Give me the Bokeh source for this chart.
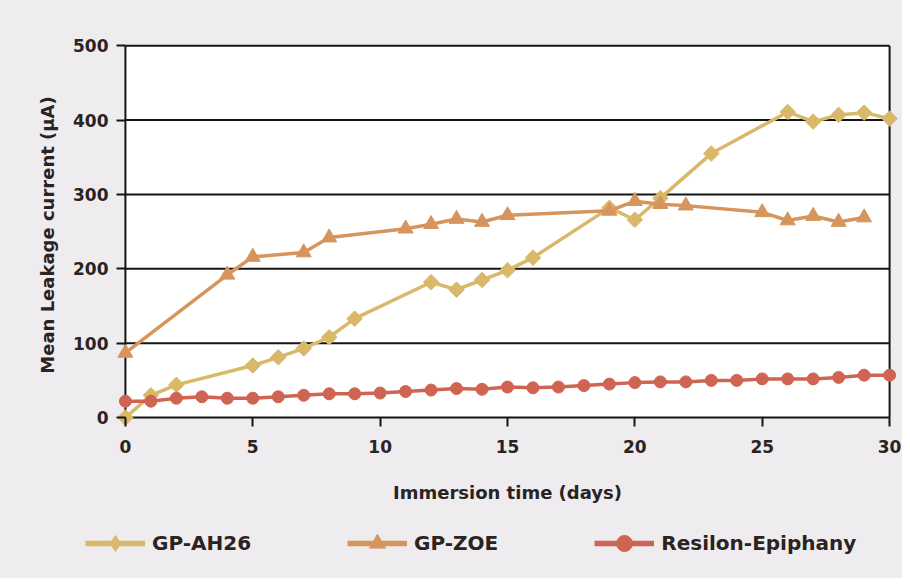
import numpy as np
from bokeh.plotting import figure
from bokeh.layouts import column, row
from bokeh.models import Range1d, Legend, LegendItem, FixedTicker, ColumnDataSource
from bokeh.embed import file_html
from bokeh.resources import INLINE

# ---- data ----
ah26_days = [0, 1, 2, 5, 6, 7, 8, 9, 12, 13, 14, 15, 16, 19, 20, 21, 23, 26, 27, 28, 29, 30]
ah26_vals = [0, 30, 44, 70, 81, 93, 108, 133, 182, 172, 185, 198, 215, 282, 266, 295, 355, 411, 398, 407, 410, 402]

zoe_days = [0, 4, 5, 7, 8, 11, 12, 13, 14, 15, 19, 20, 21, 22, 25, 26, 27, 28, 29]
zoe_vals = [87, 192, 216, 222, 242, 254, 260, 267, 263, 272, 278, 291, 287, 285, 276, 265, 271, 263, 269]

res_days = list(range(0, 31))
res_vals = [22, 22, 26, 28, 26, 26, 28, 30, 32, 32,
            33, 35, 37, 39, 38, 41, 40, 41, 43, 45,
            47, 48, 48, 50, 50, 52, 52, 52, 54, 57, 57]

x_ticks = [0, 5, 10, 15, 20, 25, 30]
y_ticks = [0, 100, 200, 300, 400, 500]

series_names = ["GP-AH26", "GP-ZOE", "Resilon-Epiphany"]
colors = ["#D9B86A", "#D5955C", "#CF6452"]
markers = ["square", "triangle", "circle"]
legend_markers = ["diamond", "triangle", "circle"]
marker_sizes = [11, 15, 12]
marker_angles = [np.pi / 4, 0, 0]

FONT = "DejaVu Sans"
TEXT = "#2b2222"
INK = "#151515"
BG = "#EEECEE"

p = figure(width=902, height=510, output_backend="svg", toolbar_location=None,
           x_range=Range1d(-0.35, 30.35), y_range=Range1d(-12, 503),
           min_border_left=116, min_border_right=4, min_border_top=43,
           min_border_bottom=84)
p.border_fill_color = BG
p.background_fill_color = BG
p.outline_line_color = None
p.xgrid.visible = False
p.ygrid.visible = False

# white data box
p.quad(left=[x_ticks[0]], right=[x_ticks[-1]], bottom=[y_ticks[0]], top=[y_ticks[-1]],
       fill_color="white", line_color=None, level="underlay")

# grid lines, axis lines and right/top border bounded to the data box
gy = [v for v in y_ticks if v > 0]
p.segment(x0=[x_ticks[0]] * len(gy), x1=[x_ticks[-1]] * len(gy), y0=gy, y1=gy,
          line_color=INK, line_width=2)
p.segment(x0=[x_ticks[0], x_ticks[-1], x_ticks[0]],
          x1=[x_ticks[0], x_ticks[-1], x_ticks[-1]],
          y0=[y_ticks[0], y_ticks[0], y_ticks[0]],
          y1=[y_ticks[-1], y_ticks[-1], y_ticks[0]],
          line_color=INK, line_width=2)

# series
series = [(ah26_days, ah26_vals), (zoe_days, zoe_vals), (res_days, res_vals)]
for i, (xs, ys) in enumerate(series):
    p.line(xs, ys, line_color=colors[i], line_width=3.5)
    p.scatter(xs, ys, marker=markers[i], angle=marker_angles[i], size=marker_sizes[i],
              fill_color=colors[i], line_color=colors[i])

# axes (ticks drawn inward across the padding strip so they hang off the data box)
for ax in (p.xaxis[0], p.yaxis[0]):
    ax.axis_line_color = None
    ax.major_tick_line_color = INK
    ax.major_tick_line_width = 2
    ax.minor_tick_line_color = None
    ax.major_tick_out = 0
    ax.major_tick_in = 9
    ax.major_label_text_font = FONT
    ax.major_label_text_font_style = "bold"
    ax.major_label_text_font_size = "17px"
    ax.major_label_text_color = TEXT
    ax.axis_label_text_font = FONT
    ax.axis_label_text_font_style = "bold"
    ax.axis_label_text_font_size = "18px"
    ax.axis_label_text_color = TEXT

p.xaxis.ticker = FixedTicker(ticks=x_ticks)
p.yaxis.ticker = FixedTicker(ticks=y_ticks)
p.xaxis.major_label_standoff = 13
p.yaxis.major_label_standoff = 8
p.xaxis.axis_label = "Immersion time (days)"
p.yaxis.axis_label = "Mean Leakage current (\u00b5A)"
p.xaxis.axis_label_standoff = 26
p.yaxis.axis_label_standoff = 12

# legend strip below the chart
lg = figure(width=902, height=68, output_backend="svg", toolbar_location=None,
            x_range=Range1d(0, 1), y_range=Range1d(0, 1),
            x_axis_location=None, y_axis_location=None,
            min_border_left=0, min_border_right=0, min_border_top=0, min_border_bottom=0)
lg.border_fill_color = BG
lg.background_fill_color = BG
lg.outline_line_color = None
lg.xgrid.visible = False
lg.ygrid.visible = False

items = []
for i, name in enumerate(series_names):
    src = ColumnDataSource(data=dict(x=[-5], y=[-5]))  # off-range: only the legend glyph shows
    lr = lg.line("x", "y", source=src, line_color=colors[i], line_width=5.5)
    sr = lg.scatter("x", "y", source=src, marker=legend_markers[i],
                    fill_color=colors[i], line_color=colors[i])
    items.append(LegendItem(label=name, renderers=[lr, sr]))

legend = Legend(items=items, location=(85, 15), orientation="horizontal")
legend.padding = 0
legend.margin = 0
legend.spacing = 96
legend.glyph_width = 60
legend.glyph_height = 40
legend.label_standoff = 7
legend.label_text_font = FONT
legend.label_text_font_style = "bold"
legend.label_text_font_size = "20px"
legend.label_text_color = TEXT
legend.background_fill_alpha = 0
legend.border_line_alpha = 0
lg.add_layout(legend)

inner = row(lg)
inner.styles = {"background-color": BG}
layout = column(p, inner, spacing=0)
layout.styles = {"background-color": BG}
open("out.html", "w").write(file_html(layout, INLINE))
